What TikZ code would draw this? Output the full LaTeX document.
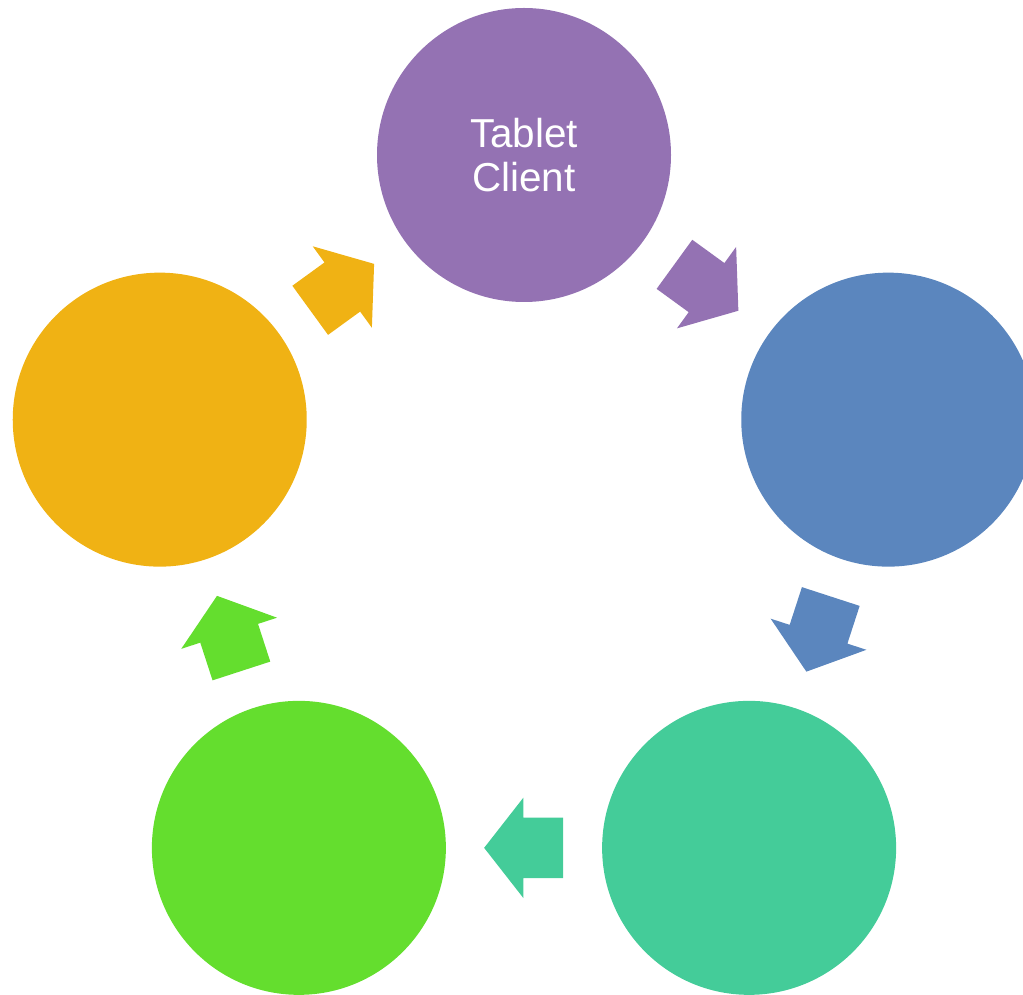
\documentclass[tikz,border=0pt]{standalone}
\usepackage{fontspec}
\setmainfont{Liberation Sans}
\usepackage{xcolor}
\usetikzlibrary{shapes.arrows,calc}
\definecolor{cycle-purple}{HTML}{9472B3}
\definecolor{cycle-blue}{HTML}{5B86BE}
\definecolor{cycle-teal}{HTML}{44CC99}
\definecolor{cycle-green}{HTML}{64DE2E}
\definecolor{cycle-orange}{HTML}{F0B214}
\tikzset{
    cycle-circle/.style = {circle, minimum size=5.88cm, inner sep=0pt, text=white, align=center, font=\fontsize{23}{25}\selectfont},
    cycle-arrow/.style = {single arrow, anchor=tail, minimum height=1.58cm, inner xsep=0pt, inner ysep=0.6cm, single arrow head extend=0.4cm, single arrow tip angle=104},
}

\begin{document}
\begin{tikzpicture}
\useasboundingbox (0,0) rectangle (20.46,-19.9);
\clip (0,0) rectangle (20.46,-19.9);
\coordinate (hub) at (10.48,-10.76);
% the five steps of the cycle
\node[cycle-circle, fill=cycle-purple] (tablet) at ($(hub)+(90:7.66)$) {Tablet\\Client};
\node[cycle-circle, fill=cycle-blue] (second) at ($(hub)+(18:7.66)$) {};
\node[cycle-circle, fill=cycle-teal] (third) at ($(hub)+(-54:7.66)$) {};
\node[cycle-circle, fill=cycle-green] (fourth) at ($(hub)+(-126:7.66)$) {};
\node[cycle-circle, fill=cycle-orange] (fifth) at ($(hub)+(162:7.66)$) {};
% block arrows between them, tail half a length before the midpoint
\node[cycle-arrow, fill=cycle-purple, rotate=-36] (tablet-second) at ($(tablet)!0.5!(second)!-0.79cm!(second)$) {};
\node[cycle-arrow, fill=cycle-blue, rotate=-108] (second-third) at ($(second)!0.5!(third)!-0.79cm!(third)$) {};
\node[cycle-arrow, fill=cycle-teal, rotate=180] (third-fourth) at ($(third)!0.5!(fourth)!-0.79cm!(fourth)$) {};
\node[cycle-arrow, fill=cycle-green, rotate=108] (fourth-fifth) at ($(fourth)!0.5!(fifth)!-0.79cm!(fifth)$) {};
\node[cycle-arrow, fill=cycle-orange, rotate=36] (fifth-tablet) at ($(fifth)!0.5!(tablet)!-0.79cm!(tablet)$) {};
\end{tikzpicture}
\end{document}
